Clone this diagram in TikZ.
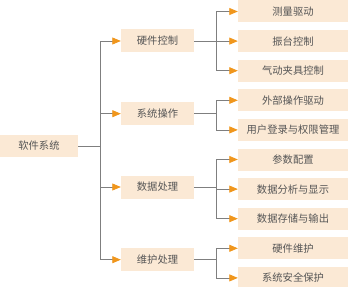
\documentclass[tikz,border=0pt]{standalone}
\usepackage{fontspec}
\usepackage{xcolor}
\newfontfamily\cjk{Noto Sans CJK SC}
\definecolor{boxfill}{HTML}{FBE9D5}
\definecolor{linegray}{HTML}{7F7F7F}
\definecolor{tiporange}{HTML}{F0961C}
\definecolor{textgray}{HTML}{555555}
\usetikzlibrary{arrows.meta,positioning}

\begin{document}
\begin{tikzpicture}[x=1pt, y=-1pt, node distance=7.2pt and 44pt,
  font=\cjk\fontsize{10.3}{12}\selectfont, text=textgray,
  rootbox/.style={fill=boxfill, minimum width=78pt, minimum height=22pt, inner sep=0pt},
  groupbox/.style={fill=boxfill, minimum width=73pt, minimum height=23pt, inner sep=0pt},
  itembox/.style={fill=boxfill, minimum width=110pt, minimum height=22pt, inner sep=0pt},
  link/.style={draw=linegray, line width=0.8pt, -{Triangle[length=8.5pt, width=7pt, color=tiporange]}}]
\useasboundingbox (0,0) rectangle (350,286);
\node[rootbox] (root) at (39,146) {软件系统};
\node[groupbox] (hw) at (157.5,41) {硬件控制};
\node[groupbox] (ops) at (157.5,113.7) {系统操作};
\node[groupbox] (data) at (157.5,187) {数据处理};
\node[groupbox] (maint) at (157.5,259.7) {维护处理};
\node[itembox] (measure) at (293,11.5) {测量驱动};
\node[itembox, below=of measure] (shaker) {振台控制};
\node[itembox, below=of shaker] (fixture) {气动夹具控制};
\node[itembox, below=of fixture] (extdrv) {外部操作驱动};
\node[itembox, below=of extdrv] (login) {用户登录与权限管理};
\node[itembox, below=of login] (param) {参数配置};
\node[itembox, below=of param] (analysis) {数据分析与显示};
\node[itembox, below=of analysis] (storage) {数据存储与输出};
\node[itembox, below=of storage] (hwmaint) {硬件维护};
\node[itembox, below=of hwmaint] (safety) {系统安全保护};
\draw[link] (root.east) -- ++(22,0) |- (hw.west);
\draw[link] (root.east) -- ++(22,0) |- (ops.west);
\draw[link] (root.east) -- ++(22,0) |- (data.west);
\draw[link] (root.east) -- ++(22,0) |- (maint.west);
\draw[link] (hw.east) -- ++(22,0) |- (measure.west);
\draw[link] (hw.east) -- ++(22,0) |- (shaker.west);
\draw[link] (hw.east) -- ++(22,0) |- (fixture.west);
\draw[link] (ops.east) -- ++(22,0) |- (extdrv.west);
\draw[link] (ops.east) -- ++(22,0) |- (login.west);
\draw[link] (data.east) -- ++(22,0) |- (param.west);
\draw[link] (data.east) -- ++(22,0) |- (analysis.west);
\draw[link] (data.east) -- ++(22,0) |- (storage.west);
\draw[link] (maint.east) -- ++(22,0) |- (hwmaint.west);
\draw[link] (maint.east) -- ++(22,0) |- (safety.west);
\end{tikzpicture}
\end{document}
